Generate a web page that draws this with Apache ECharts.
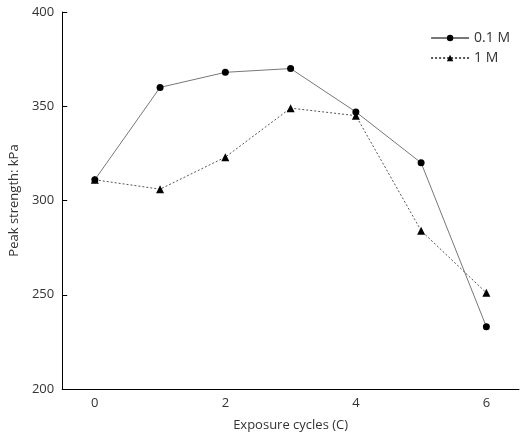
<!DOCTYPE html><html><head><meta charset="utf-8"><script src="https://cdn.jsdelivr.net/npm/echarts@6/dist/echarts.min.js"></script></head><body style="margin:0"><div id="c" style="width:520px;height:441px"></div><script>
const cycles=['0','1','2','3','4','5','6'];
const s01=[311,360,368,370,347,320,233];
const s1=[311,306,323,349,345,284,251];
const yTicks=[200,250,300,350,400];
const f='Open Sans';
const ch=echarts.init(document.getElementById('c'));
const line={onZero:false,lineStyle:{color:'#000'}};
const tick={inside:true,length:5,lineStyle:{color:'#000'}};
const lab={color:'#333',fontFamily:f,fontSize:13};
const nts={color:'#333',fontFamily:f,fontSize:13};
ch.setOption({animation:false,
grid:{left:57,right:1,top:12,bottom:52},
legend:{right:5,top:26,orient:'vertical',itemGap:6,itemWidth:38,itemHeight:8,textStyle:{fontFamily:f,fontSize:14,color:'#333'},data:['0.1 M','1 M']},
xAxis:{type:'category',data:cycles,boundaryGap:true,name:'Exposure cycles (C)',nameLocation:'middle',nameGap:30,nameTextStyle:nts,axisLine:line,axisTick:Object.assign({alignWithLabel:true,interval:0},tick),axisLabel:Object.assign({interval:1},lab),splitLine:{show:false}},
yAxis:{type:'value',min:yTicks[0],max:yTicks[yTicks.length-1],interval:50,name:'Peak strength: kPa',nameLocation:'middle',nameGap:38,nameTextStyle:nts,axisLine:Object.assign({show:true},line),axisTick:Object.assign({show:true},tick),axisLabel:lab,splitLine:{show:false}},
series:[
{name:'0.1 M',type:'line',data:s01,symbol:'circle',symbolSize:7,itemStyle:{color:'#000'},lineStyle:{color:'#777',width:1}},
{name:'1 M',type:'line',data:s1,symbol:'triangle',symbolSize:8,itemStyle:{color:'#000'},lineStyle:{color:'#555',width:1,type:[2,2]}}
]});
</script></body></html>
